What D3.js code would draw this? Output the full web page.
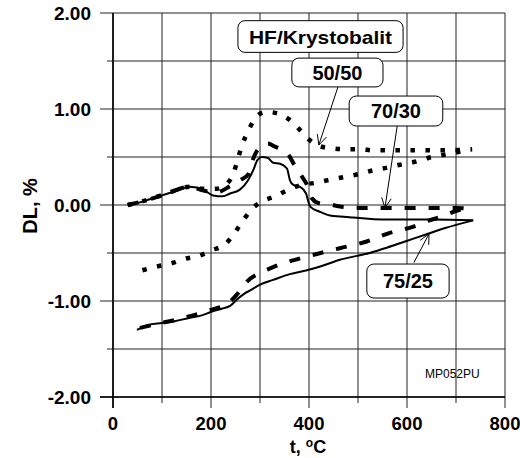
<!DOCTYPE html>
<html>
<head>
<meta charset="utf-8">
<script src="https://cdn.jsdelivr.net/npm/d3@7"></script>
<style>
  body { margin: 0; background: #fff; }
  svg { display: block; }
  text { font-family: "Liberation Sans", Arial, sans-serif; fill: #000; }
</style>
</head>
<body>
<svg id="chart" width="520" height="458"></svg>
<script>
// t in °C, DL in %
let heat75 = [[30,0],[50,0.02],[75,0.06],[100,0.10],[125,0.14],[157,0.19],[184,0.16],[204,0.10],
  [224,0.09],[239,0.12],[259,0.16],[276,0.26],[286,0.36],[295,0.47],[304,0.50],[316,0.49],
  [327,0.44],[341,0.43],[355,0.38],[361,0.26],[368,0.21],[382,0.19],[394,0.12],[399,0.03],
  [403,-0.02],[422,-0.07],[443,-0.11],[463,-0.12],[490,-0.13],[550,-0.15],[650,-0.15],[735,-0.16]];
let cool75 = [[49,-1.30],[72,-1.25],[100,-1.23],[126,-1.21],[153,-1.18],[181,-1.15],[202,-1.11],
  [222,-1.08],[239,-1.05],[256,-0.97],[269,-0.92],[280,-0.89],[300,-0.83],[327,-0.78],[361,-0.72],
  [396,-0.68],[429,-0.63],[463,-0.57],[498,-0.53],[524,-0.50],[555,-0.45],[596,-0.38],[637,-0.31],
  [678,-0.24],[735,-0.16]];
let heat70 = [[30,0],[75,0.06],[110,0.12],[157,0.19],[185,0.15],[210,0.13],[240,0.20],[260,0.26],
  [276,0.32],[286,0.48],[296,0.58],[316,0.64],[330,0.61],[357,0.53],[370,0.42],[385,0.30],
  [395,0.22],[406,0.07],[420,0.02],[437,0.01],[470,-0.02],[500,-0.03],[600,-0.03],[700,-0.03],[730,-0.04]];
let cool70 = [[55,-1.28],[80,-1.25],[133,-1.19],[188,-1.11],[235,-1.02],[255,-0.92],[265,-0.85],
  [273,-0.80],[295,-0.72],[316,-0.67],[340,-0.62],[365,-0.58],[416,-0.51],[463,-0.45],[518,-0.38],
  [565,-0.29],[610,-0.23],[640,-0.17],[671,-0.12],[708,-0.05],[730,-0.03]];
let heat50 = [[30,0],[75,0.06],[110,0.12],[157,0.19],[180,0.17],[212,0.17],[230,0.21],[245,0.32],
  [255,0.48],[263,0.62],[273,0.74],[285,0.86],[297,0.94],[312,0.97],[331,0.96],[357,0.90],
  [378,0.80],[396,0.70],[418,0.62],[447,0.59],[478,0.58],[504,0.58],[531,0.57],[600,0.57],
  [680,0.57],[733,0.58]];
let cool50 = [[60,-0.68],[90,-0.64],[118,-0.61],[147,-0.56],[175,-0.53],[202,-0.47],[229,-0.41],
  [247,-0.30],[263,-0.18],[282,-0.05],[305,0.04],[331,0.09],[358,0.16],[385,0.21],[412,0.23],
  [440,0.26],[470,0.29],[500,0.32],[530,0.36],[560,0.39],[586,0.42],[616,0.45],[643,0.49],
  [673,0.52],[702,0.55],[725,0.57]];

let xTicks = [0, 200, 400, 600, 800];
let yTicks = [-2, -1, 0, 1, 2];

// label boxes: [t0, t1, dl0, dl1], arrow from -> to (data units)
let boxNames = ["HF/Krystobalit", "50/50", "70/30", "75/25"];
let boxAreas = [[255,592,1.92,1.59], [365,551,1.53,1.23], [482,673,1.135,0.823], [518,686,-0.615,-0.969]];
let arrowFrom = [null, [459,1.229], [580,0.823], [614,-0.60]];
let arrowTo = [null, [420,0.625], [555,-0.03], [645,-0.30]];

let svg = d3.select("#chart");
let x = d3.scaleLinear().domain([0, 800]).range([113, 505]);
let y = d3.scaleLinear().domain([-2, 2]).range([397, 13]);

// grid
let g = svg.append("g");
g.selectAll(".vg").data(d3.range(0, 801, 100)).enter().append("line")
  .attr("x1", d => x(d)).attr("x2", d => x(d))
  .attr("y1", y(2)).attr("y2", d => y(-2) + (d % 200 == 0 ? 11 : 6))
  .attr("stroke", "#222").attr("stroke-width", 1);
g.selectAll(".hg").data(d3.range(-2, 2.01, 0.5)).enter().append("line")
  .attr("x1", d => x(0) - (Math.abs(d % 1) < 0.01 ? 13 : 6)).attr("x2", x(800))
  .attr("y1", d => y(d)).attr("y2", d => y(d))
  .attr("stroke", "#222").attr("stroke-width", 1);
// axes
svg.append("line").attr("x1", x(0)).attr("x2", x(0)).attr("y1", y(2)).attr("y2", y(-2) + 11)
  .attr("stroke", "#000").attr("stroke-width", 1.6);
svg.append("line").attr("x1", x(0) - 13).attr("x2", x(800)).attr("y1", y(-2)).attr("y2", y(-2))
  .attr("stroke", "#000").attr("stroke-width", 1.6);

// tick labels
svg.selectAll(".yl").data(yTicks).enter().append("text")
  .attr("x", x(0) - 22).attr("y", d => y(d) + 6.5)
  .attr("text-anchor", "end").attr("font-size", 19).attr("font-weight", "bold")
  .text(d => d3.format(".2f")(d).replace("\u2212", "-"));
svg.selectAll(".xl").data(xTicks).enter().append("text")
  .attr("x", d => x(d)).attr("y", y(-2) + 33)
  .attr("text-anchor", "middle").attr("font-size", 18.5).attr("font-weight", "bold")
  .text(d => d);

// axis titles
let xt = svg.append("text").attr("x", 308).attr("y", 453)
  .attr("text-anchor", "middle").attr("font-size", 18).attr("font-weight", "bold");
xt.append("tspan").text("t, ");
xt.append("tspan").attr("font-size", 12).attr("dy", -6).text("o");
xt.append("tspan").attr("dy", 6).text("C");
svg.append("text").attr("transform", "translate(37,206) rotate(-90)")
  .attr("text-anchor", "middle").attr("font-size", 20).attr("font-weight", "bold")
  .text("DL, %");

svg.append("text").attr("x", 425).attr("y", 378).attr("font-size", 12).text("MP052PU");

// curves
let line = d3.line().x(d => x(d[0])).y(d => y(d[1])).curve(d3.curveMonotoneX);
let series = [
  {data: heat50, w: 4.5, dash: "4.5,10.5"}, {data: cool50, w: 4.5, dash: "4.5,10.5"},
  {data: heat70, w: 4, dash: "11,13"}, {data: cool70, w: 4, dash: "11,13"},
  {data: heat75, w: 2, dash: null}, {data: cool75, w: 2, dash: null}
];
svg.selectAll(".curve").data(series).enter().append("path")
  .attr("d", d => line(d.data))
  .attr("fill", "none").attr("stroke", "#000")
  .attr("stroke-width", d => d.w)
  .attr("stroke-dasharray", d => d.dash)
  .attr("stroke-linejoin", "round");

// labels with arrows
boxNames.forEach(function(name, i) {
  let b = boxAreas[i];
  let x0 = x(b[0]), x1 = x(b[1]), y0 = y(b[2]), y1 = y(b[3]);
  svg.append("rect").attr("x", x0).attr("y", y0)
    .attr("width", x1 - x0).attr("height", y1 - y0)
    .attr("rx", 7).attr("fill", "#fff").attr("stroke", "#000").attr("stroke-width", 1);
  let t = svg.append("text").attr("x", (x0 + x1) / 2).attr("y", (y0 + y1) / 2 + 7)
    .attr("text-anchor", "middle").attr("font-weight", "bold")
    .attr("font-size", i == 0 ? 19 : 20).text(name);
  if (i == 0) t.attr("textLength", 143).attr("lengthAdjust", "spacingAndGlyphs");
  if (arrowFrom[i]) {
    let ax = x(arrowFrom[i][0]), ay = y(arrowFrom[i][1]);
    let bx = x(arrowTo[i][0]), by = y(arrowTo[i][1]);
    let ang = Math.atan2(by - ay, bx - ax);
    svg.append("line").attr("x1", ax).attr("y1", ay).attr("x2", bx).attr("y2", by)
      .attr("stroke", "#000").attr("stroke-width", 1);
    [-0.45, 0.45].forEach(function(da) {
      svg.append("line").attr("x1", bx).attr("y1", by)
        .attr("x2", bx - 11 * Math.cos(ang + da)).attr("y2", by - 11 * Math.sin(ang + da))
        .attr("stroke", "#000").attr("stroke-width", 1);
    });
  }
});
</script>
</body>
</html>
